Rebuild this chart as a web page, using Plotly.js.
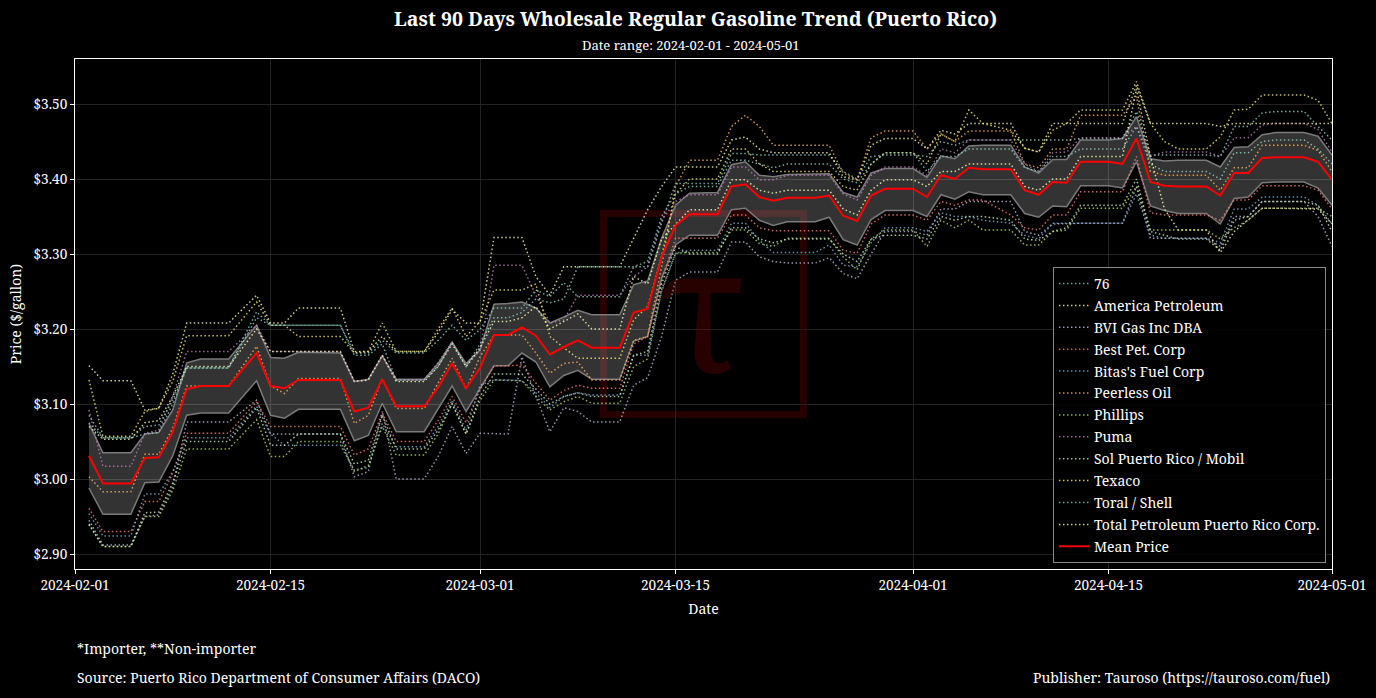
<!DOCTYPE html>
<html>
<head>
<meta charset="utf-8">
<script src="https://cdn.plot.ly/plotly-3.0.1.min.js"></script>
<style>
  html, body { margin: 0; padding: 0; background: #000; }
  #chart { width: 1376px; height: 698px; }
</style>
</head>
<body>
<div id="chart"></div>
<script>
// observation dates (no Sunday prices)
var dates = ['2024-02-02','2024-02-03','2024-02-05','2024-02-06','2024-02-07','2024-02-08','2024-02-09','2024-02-10','2024-02-12','2024-02-14',
  '2024-02-15','2024-02-16','2024-02-17','2024-02-20','2024-02-21','2024-02-22','2024-02-23','2024-02-24','2024-02-26','2024-02-27',
  '2024-02-28','2024-02-29','2024-03-01','2024-03-02','2024-03-03','2024-03-04','2024-03-05','2024-03-06','2024-03-07','2024-03-08',
  '2024-03-09','2024-03-11','2024-03-12','2024-03-13','2024-03-14','2024-03-15','2024-03-16','2024-03-18','2024-03-19','2024-03-20',
  '2024-03-21','2024-03-22','2024-03-23','2024-03-25','2024-03-26','2024-03-27','2024-03-28','2024-03-29','2024-03-30','2024-04-01',
  '2024-04-02','2024-04-03','2024-04-04','2024-04-05','2024-04-06','2024-04-08','2024-04-09','2024-04-10','2024-04-11','2024-04-12',
  '2024-04-13','2024-04-15','2024-04-16','2024-04-17','2024-04-18','2024-04-19','2024-04-20','2024-04-22','2024-04-23','2024-04-24',
  '2024-04-25','2024-04-26','2024-04-27','2024-04-29','2024-04-30','2024-05-01'];

var meanPrice = [3.031,2.994,2.994,3.028,3.029,3.063,3.120,3.124,3.124,3.168,
  3.124,3.121,3.132,3.132,3.090,3.095,3.133,3.097,3.097,3.122,
  3.154,3.121,3.148,3.192,3.192,3.202,3.191,3.166,3.176,3.185,
  3.175,3.175,3.222,3.227,3.296,3.338,3.353,3.353,3.390,3.393,
  3.376,3.371,3.375,3.375,3.378,3.351,3.344,3.378,3.387,3.387,
  3.376,3.405,3.400,3.415,3.413,3.413,3.385,3.379,3.396,3.395,
  3.423,3.423,3.420,3.454,3.396,3.391,3.390,3.390,3.378,3.408,
  3.408,3.428,3.429,3.429,3.423,3.399];

var bandUpper = [3.074,3.035,3.035,3.060,3.062,3.092,3.155,3.160,3.160,3.205,
  3.162,3.161,3.169,3.168,3.130,3.133,3.164,3.133,3.133,3.154,
  3.182,3.154,3.172,3.233,3.234,3.236,3.228,3.208,3.216,3.225,
  3.219,3.219,3.259,3.264,3.321,3.365,3.381,3.382,3.419,3.423,
  3.405,3.403,3.406,3.406,3.407,3.382,3.376,3.408,3.414,3.414,
  3.402,3.431,3.427,3.444,3.445,3.445,3.416,3.408,3.426,3.426,
  3.452,3.452,3.454,3.483,3.427,3.424,3.425,3.425,3.416,3.442,
  3.443,3.459,3.462,3.462,3.457,3.432];

var bandLower = [2.988,2.953,2.953,2.995,2.996,3.031,3.085,3.088,3.088,3.131,
  3.085,3.081,3.093,3.093,3.051,3.058,3.101,3.063,3.063,3.093,
  3.124,3.090,3.120,3.151,3.151,3.168,3.156,3.123,3.138,3.145,
  3.133,3.133,3.184,3.190,3.268,3.312,3.325,3.325,3.359,3.361,
  3.345,3.338,3.343,3.343,3.349,3.319,3.312,3.346,3.358,3.358,
  3.350,3.379,3.373,3.383,3.379,3.379,3.354,3.349,3.364,3.363,
  3.391,3.391,3.388,3.423,3.364,3.358,3.354,3.354,3.340,3.374,
  3.376,3.395,3.396,3.396,3.388,3.365];

var p76 = [3.085,3.055,3.055,3.060,3.062,3.100,3.148,3.148,3.148,3.223,
  3.205,3.205,3.205,3.205,3.168,3.168,3.185,3.168,3.168,3.185,
  3.205,3.185,3.199,3.228,3.228,3.228,3.252,3.243,3.262,3.243,
  3.243,3.243,3.283,3.283,3.341,3.394,3.394,3.394,3.434,3.434,
  3.432,3.432,3.432,3.432,3.432,3.410,3.400,3.430,3.432,3.432,
  3.430,3.450,3.445,3.452,3.452,3.452,3.452,3.452,3.452,3.452,
  3.454,3.454,3.454,3.490,3.432,3.432,3.432,3.432,3.430,3.470,
  3.470,3.488,3.490,3.490,3.470,3.452];

var pAmerica = [3.151,3.131,3.131,3.092,3.094,3.140,3.208,3.208,3.208,3.245,
  3.208,3.208,3.228,3.228,3.170,3.170,3.190,3.170,3.170,3.195,
  3.226,3.208,3.208,3.322,3.322,3.322,3.270,3.245,3.283,3.283,
  3.283,3.283,3.321,3.359,3.390,3.416,3.416,3.416,3.452,3.456,
  3.440,3.435,3.435,3.435,3.435,3.403,3.399,3.445,3.454,3.454,
  3.440,3.465,3.460,3.474,3.474,3.474,3.441,3.436,3.474,3.474,
  3.474,3.474,3.474,3.525,3.474,3.474,3.474,3.474,3.470,3.474,
  3.474,3.474,3.474,3.474,3.474,3.474];

var pBVI = [2.945,2.912,2.912,2.950,2.952,2.990,3.076,3.076,3.076,3.105,
  3.060,3.060,3.060,3.060,3.003,3.010,3.090,3.000,3.000,3.030,
  3.070,3.034,3.061,3.060,3.060,3.163,3.110,3.063,3.095,3.090,
  3.076,3.076,3.125,3.135,3.190,3.265,3.276,3.276,3.316,3.316,
  3.296,3.290,3.288,3.288,3.295,3.274,3.267,3.300,3.330,3.330,
  3.325,3.360,3.360,3.370,3.370,3.370,3.330,3.325,3.340,3.341,
  3.341,3.341,3.341,3.390,3.321,3.321,3.321,3.321,3.310,3.350,
  3.350,3.370,3.370,3.370,3.350,3.310];

var pBest = [2.961,2.930,2.930,2.970,2.970,3.008,3.061,3.061,3.061,3.103,
  3.070,3.070,3.070,3.070,3.032,3.040,3.088,3.050,3.050,3.078,
  3.110,3.075,3.119,3.151,3.151,3.152,3.128,3.105,3.118,3.125,
  3.121,3.121,3.180,3.190,3.265,3.321,3.321,3.321,3.352,3.352,
  3.335,3.331,3.331,3.331,3.331,3.305,3.301,3.340,3.352,3.352,
  3.345,3.370,3.365,3.372,3.372,3.352,3.335,3.332,3.352,3.352,
  3.383,3.383,3.383,3.430,3.355,3.352,3.352,3.352,3.345,3.372,
  3.372,3.391,3.391,3.391,3.385,3.360];

var pBitas = [2.954,2.924,2.924,2.980,2.980,3.010,3.055,3.055,3.055,3.097,
  3.060,3.045,3.045,3.045,3.012,3.015,3.074,3.043,3.043,3.070,
  3.105,3.065,3.125,3.132,3.132,3.131,3.115,3.095,3.110,3.115,
  3.112,3.112,3.165,3.165,3.250,3.301,3.305,3.305,3.341,3.341,
  3.318,3.302,3.302,3.302,3.312,3.285,3.283,3.315,3.335,3.335,
  3.330,3.355,3.350,3.350,3.345,3.341,3.325,3.320,3.341,3.341,
  3.341,3.341,3.341,3.380,3.325,3.321,3.321,3.321,3.315,3.360,
  3.360,3.376,3.376,3.376,3.365,3.340];

var pPeerless = [3.003,2.983,2.983,3.033,3.033,3.068,3.124,3.124,3.124,3.177,
  3.124,3.114,3.134,3.134,3.074,3.085,3.134,3.094,3.094,3.128,
  3.161,3.120,3.163,3.192,3.192,3.192,3.168,3.141,3.154,3.156,
  3.132,3.132,3.185,3.190,3.283,3.390,3.425,3.425,3.470,3.485,
  3.470,3.445,3.445,3.445,3.445,3.408,3.399,3.455,3.464,3.464,
  3.440,3.460,3.450,3.464,3.464,3.464,3.420,3.415,3.440,3.440,
  3.485,3.485,3.485,3.510,3.410,3.405,3.405,3.405,3.385,3.415,
  3.415,3.445,3.445,3.445,3.438,3.410];

var pPhillips = [2.939,2.910,2.910,2.950,2.950,2.985,3.040,3.040,3.040,3.079,
  3.030,3.030,3.050,3.050,3.010,3.018,3.070,3.032,3.032,3.060,
  3.101,3.060,3.105,3.132,3.132,3.131,3.110,3.092,3.103,3.110,
  3.101,3.101,3.150,3.160,3.252,3.301,3.302,3.302,3.332,3.332,
  3.314,3.310,3.321,3.321,3.321,3.296,3.279,3.320,3.332,3.332,
  3.310,3.345,3.335,3.345,3.332,3.332,3.312,3.312,3.330,3.332,
  3.361,3.361,3.361,3.390,3.332,3.332,3.332,3.332,3.320,3.335,
  3.345,3.361,3.361,3.361,3.361,3.350];

var pPuma = [3.092,3.017,3.017,3.061,3.065,3.110,3.170,3.170,3.170,3.205,
  3.170,3.170,3.170,3.170,3.130,3.132,3.165,3.132,3.132,3.155,
  3.183,3.150,3.172,3.285,3.285,3.285,3.245,3.208,3.212,3.245,
  3.245,3.245,3.270,3.283,3.345,3.370,3.379,3.379,3.416,3.416,
  3.399,3.399,3.405,3.405,3.405,3.380,3.372,3.405,3.416,3.416,
  3.405,3.440,3.435,3.452,3.452,3.452,3.420,3.410,3.435,3.436,
  3.455,3.455,3.455,3.470,3.430,3.436,3.436,3.436,3.430,3.455,
  3.455,3.472,3.474,3.474,3.466,3.436];

var pSol = [2.940,2.910,2.910,2.955,2.956,2.995,3.050,3.050,3.050,3.095,
  3.045,3.045,3.060,3.060,3.020,3.025,3.085,3.040,3.040,3.065,
  3.100,3.060,3.110,3.140,3.140,3.140,3.120,3.100,3.110,3.115,
  3.110,3.110,3.165,3.170,3.260,3.310,3.300,3.300,3.335,3.335,
  3.320,3.315,3.320,3.320,3.320,3.300,3.290,3.320,3.325,3.325,
  3.320,3.350,3.345,3.350,3.350,3.345,3.320,3.318,3.330,3.335,
  3.365,3.365,3.365,3.400,3.330,3.325,3.320,3.320,3.305,3.345,
  3.350,3.370,3.370,3.370,3.365,3.330];

var pTexaco = [3.132,3.057,3.057,3.090,3.095,3.130,3.191,3.191,3.191,3.236,
  3.205,3.205,3.190,3.190,3.168,3.170,3.208,3.170,3.170,3.200,
  3.228,3.190,3.210,3.252,3.252,3.252,3.260,3.190,3.175,3.161,
  3.161,3.161,3.212,3.230,3.297,3.380,3.400,3.400,3.440,3.440,
  3.420,3.410,3.410,3.410,3.410,3.390,3.385,3.420,3.435,3.435,
  3.420,3.460,3.450,3.492,3.474,3.465,3.441,3.436,3.465,3.474,
  3.492,3.492,3.492,3.530,3.474,3.450,3.440,3.440,3.456,3.492,
  3.493,3.512,3.512,3.512,3.505,3.474];

var pToral = [3.075,3.055,3.055,3.070,3.072,3.105,3.148,3.148,3.148,3.215,
  3.205,3.205,3.205,3.205,3.165,3.165,3.180,3.132,3.132,3.150,
  3.183,3.150,3.180,3.215,3.215,3.222,3.240,3.235,3.240,3.283,
  3.283,3.283,3.283,3.290,3.350,3.380,3.390,3.390,3.425,3.425,
  3.420,3.415,3.420,3.420,3.420,3.400,3.395,3.420,3.435,3.435,
  3.410,3.430,3.430,3.440,3.440,3.440,3.415,3.410,3.430,3.430,
  3.440,3.440,3.440,3.470,3.420,3.410,3.410,3.410,3.400,3.435,
  3.435,3.450,3.452,3.452,3.440,3.420];

var pTotal = [3.070,3.053,3.053,3.075,3.078,3.110,3.150,3.150,3.150,3.200,
  3.170,3.170,3.170,3.170,3.130,3.132,3.165,3.130,3.130,3.150,
  3.180,3.150,3.175,3.210,3.210,3.215,3.230,3.200,3.210,3.220,
  3.200,3.200,3.270,3.260,3.320,3.339,3.359,3.359,3.399,3.399,
  3.385,3.381,3.385,3.385,3.385,3.360,3.352,3.385,3.399,3.399,
  3.390,3.410,3.410,3.420,3.420,3.420,3.390,3.385,3.400,3.400,
  3.430,3.430,3.430,3.520,3.430,3.360,3.332,3.332,3.302,3.330,
  3.345,3.361,3.361,3.361,3.360,3.340];

var companies = ['76','America Petroleum','BVI Gas Inc DBA','Best Pet. Corp',"Bitas's Fuel Corp",'Peerless Oil',
  'Phillips','Puma','Sol Puerto Rico / Mobil','Texaco','Toral / Shell','Total Petroleum Puerto Rico Corp.'];
var companyPrices = [p76, pAmerica, pBVI, pBest, pBitas, pPeerless, pPhillips, pPuma, pSol, pTexaco, pToral, pTotal];
var companyColors = ['#8dd3c7','#ffffb3','#bebada','#fb8072','#80b1d3','#fdb462',
  '#b3de69','#bc80bd','#ccebc5','#ffed6f','#8dd3c7','#ffffb3'];

var yTicks = [2.9, 3.0, 3.1, 3.2, 3.3, 3.4, 3.5];
var yTickText = ['$2.90', '$3.00', '$3.10', '$3.20', '$3.30', '$3.40', '$3.50'];
var xTicks = ['2024-02-01','2024-02-15','2024-03-01','2024-03-15','2024-04-01','2024-04-15','2024-05-01'];

var serif = 'Noto Serif, DejaVu Serif, serif';

var data = [];

// std band
data.push({
  x: dates, y: bandLower, mode: 'lines', showlegend: false, hoverinfo: 'skip',
  line: {color: '#7a7a7a', width: 1.5}
});
data.push({
  x: dates, y: bandUpper, mode: 'lines', showlegend: false, hoverinfo: 'skip',
  fill: 'tonexty', fillcolor: 'rgba(255,255,255,0.2)',
  line: {color: '#7a7a7a', width: 1.5}
});

for (var i = 0; i < companies.length; i++) {
  data.push({
    x: dates, y: companyPrices[i], mode: 'lines', name: companies[i],
    legendgroup: 'g' + i, opacity: 0.8,
    line: {color: companyColors[i], width: 1.5, dash: '1.5px,2.5px'}
  });
}

data.push({
  x: dates, y: meanPrice, mode: 'lines', name: 'Mean Price', legendgroup: 'mean',
  line: {color: '#ff0000', width: 2}
});

var layout = {
  width: 1376, height: 698,
  paper_bgcolor: '#000', plot_bgcolor: '#000',
  font: {family: serif, color: '#fff', size: 14},
  margin: {l: 75, r: 44, t: 59, b: 129},
  title: {
    text: '<b>Last 90 Days Wholesale Regular Gasoline Trend (Puerto Rico)</b>',
    font: {family: serif, size: 19.5, color: '#fff'},
    x: 0.5055, xref: 'container', xanchor: 'center', y: 0.972, yanchor: 'middle'
  },
  xaxis: {
    type: 'date', range: ['2024-02-01', '2024-05-01'],
    tickvals: xTicks, ticktext: xTicks,
    ticks: 'outside', ticklen: 4, tickcolor: '#fff',
    showline: true, linecolor: '#fff', linewidth: 1, mirror: true,
    showgrid: true, gridcolor: '#232323', gridwidth: 1, zeroline: false,
    tickfont: {size: 13.6},
    title: {text: 'Date', font: {size: 14}, standoff: 10}
  },
  yaxis: {
    range: [2.88, 3.56],
    tickvals: yTicks, ticktext: yTickText,
    ticks: 'outside', ticklen: 4, tickcolor: '#fff',
    showline: true, linecolor: '#fff', linewidth: 1, mirror: true,
    showgrid: true, gridcolor: '#232323', gridwidth: 1, zeroline: false,
    tickfont: {size: 13.6},
    title: {text: 'Price ($/gallon)', font: {size: 14}, standoff: 8}
  },
  legend: {
    x: 0.9952, xanchor: 'right', y: 0.012, yanchor: 'bottom',
    bgcolor: 'rgba(0,0,0,0.85)', bordercolor: '#8a8a8a', borderwidth: 1,
    font: {family: serif, size: 14, color: '#fff'},
    traceorder: 'grouped', tracegroupgap: 0.7
  },
  shapes: [{
    type: 'rect', xref: 'paper', yref: 'paper', x0: 0.4205, x1: 0.5795, y0: 0.303, y1: 0.697,
    line: {color: 'rgba(140,0,0,0.28)', width: 7}, layer: 'below'
  }],
  annotations: [
    {text: '\u03c4', xref: 'paper', yref: 'paper', x: 0.5, y: 0.52, xanchor: 'center', yanchor: 'middle',
     showarrow: false, font: {family: serif, size: 175, color: 'rgba(140,0,0,0.28)'}},
    {text: 'Date range: 2024-02-01 - 2024-05-01', xref: 'paper', yref: 'paper', x: 0.4893, y: 1.0275,
     xanchor: 'center', yanchor: 'middle', showarrow: false, font: {size: 13}},
    {text: '*Importer, **Non-importer', xref: 'paper', yref: 'paper', x: 0, y: -0.155,
     xanchor: 'left', yanchor: 'middle', showarrow: false, font: {size: 14}},
    {text: 'Source: Puerto Rico Department of Consumer Affairs (DACO)', xref: 'paper', yref: 'paper', x: 0, y: -0.2137,
     xanchor: 'left', yanchor: 'middle', showarrow: false, font: {size: 14}},
    {text: 'Publisher: Tauroso (https://tauroso.com/fuel)', xref: 'paper', yref: 'paper', x: 1, y: -0.2137,
     xanchor: 'right', yanchor: 'middle', showarrow: false, font: {size: 14}}
  ]
};

Plotly.newPlot('chart', data, layout, {displayModeBar: false});
</script>
</body>
</html>
